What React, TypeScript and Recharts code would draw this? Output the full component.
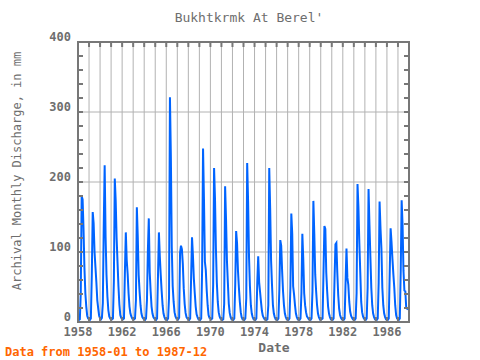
import { LineChart, Line, XAxis, YAxis, CartesianGrid, ReferenceArea } from "recharts";

// monthly discharge (mm), Jan..Dec
const q1958 = [4, 3, 4, 41, 180, 175, 133, 77, 41, 22, 9, 5];
const q1959 = [4, 3, 5, 66, 157, 141, 100, 78, 56, 31, 19, 9];
const q1960 = [5, 4, 6, 27, 137, 224, 122, 67, 36, 17, 8, 5];
const q1961 = [5, 4, 5, 58, 205, 173, 120, 85, 51, 25, 10, 6];
const q1962 = [5, 4, 5, 71, 128, 88, 69, 41, 22, 12, 8, 5];
const q1963 = [5, 4, 5, 31, 164, 122, 67, 43, 24, 12, 7, 5];
const q1964 = [4, 3, 5, 31, 102, 148, 71, 44, 22, 12, 7, 5];
const q1965 = [4, 3, 5, 66, 128, 93, 67, 44, 24, 12, 7, 4];
const q1966 = [4, 3, 5, 35, 321, 236, 106, 51, 29, 14, 8, 5];
const q1967 = [5, 4, 6, 99, 109, 104, 83, 48, 26, 13, 7, 5];
const q1968 = [4, 3, 5, 62, 121, 95, 62, 41, 22, 11, 7, 4];
const q1969 = [4, 3, 5, 76, 248, 176, 86, 74, 45, 24, 10, 6];
const q1970 = [5, 4, 5, 53, 220, 176, 105, 56, 29, 14, 8, 5];
const q1971 = [4, 3, 4, 26, 194, 147, 87, 56, 26, 13, 7, 4];
const q1972 = [4, 3, 5, 53, 130, 112, 73, 49, 29, 14, 7, 4];
const q1973 = [4, 3, 5, 34, 227, 173, 93, 51, 24, 12, 7, 4];
const q1974 = [4, 3, 5, 57, 94, 57, 43, 29, 16, 9, 6, 4];
const q1975 = [4, 3, 4, 24, 220, 163, 88, 53, 24, 12, 7, 4];
const q1976 = [4, 3, 5, 46, 117, 109, 73, 44, 24, 12, 7, 4];
const q1977 = [4, 3, 5, 49, 155, 126, 51, 39, 24, 12, 7, 4];
const q1978 = [4, 3, 5, 41, 126, 90, 41, 24, 14, 8, 6, 4];
const q1979 = [4, 3, 5, 44, 173, 126, 68, 44, 24, 12, 7, 4];
const q1980 = [5, 4, 5, 71, 137, 133, 71, 44, 22, 12, 7, 4];
const q1981 = [4, 3, 5, 60, 111, 113, 71, 39, 19, 10, 6, 4];
const q1982 = [4, 3, 5, 56, 105, 63, 53, 29, 15, 9, 6, 4];
const q1983 = [4, 3, 5, 41, 197, 164, 112, 71, 29, 14, 8, 5];
const q1984 = [4, 3, 5, 49, 190, 139, 93, 49, 24, 12, 7, 4];
const q1985 = [4, 3, 5, 56, 172, 134, 105, 49, 24, 12, 7, 4];
const q1986 = [4, 3, 5, 68, 134, 114, 90, 68, 49, 24, 10, 5];
const q1987 = [4, 3, 5, 73, 174, 138, 73, 45, 44, 20, 19, 18];

const years = [
  1958, 1959, 1960, 1961, 1962, 1963, 1964, 1965, 1966, 1967,
  1968, 1969, 1970, 1971, 1972, 1973, 1974, 1975, 1976, 1977,
  1978, 1979, 1980, 1981, 1982, 1983, 1984, 1985, 1986, 1987,
];
const series = [
  q1958, q1959, q1960, q1961, q1962, q1963, q1964, q1965, q1966, q1967,
  q1968, q1969, q1970, q1971, q1972, q1973, q1974, q1975, q1976, q1977,
  q1978, q1979, q1980, q1981, q1982, q1983, q1984, q1985, q1986, q1987,
];

const xTicks = [...years, 1988];
const xLabels = [1958, 1962, 1966, 1970, 1974, 1978, 1982, 1986];
const yTicks = [0, 20, 40, 60, 80, 100, 120, 140, 160, 180, 200, 220, 240, 260, 280, 300, 320, 340, 360, 380, 400];
const yLabels = [0, 100, 200, 300, 400];

const data = years.flatMap((yr, i) =>
  series[i].map((q, m) => ({ t: yr + m / 12, q }))
);

const PLOT_LEFT = 78;
const PLOT_RIGHT = 409;
const PLOT_TOP = 42;
const PLOT_BOTTOM = 322;
const AXIS = "#777777";
const TEXT = "#6e6e6e";
const FONT = "'DejaVu Sans Mono', monospace";

const XTick = ({ x, payload }: any) => (
  <g>
    <line x1={x} x2={x} y1={PLOT_BOTTOM} y2={PLOT_BOTTOM - 5} stroke={AXIS} strokeWidth={2} />
    <line x1={x} x2={x} y1={PLOT_TOP} y2={PLOT_TOP + 5} stroke={AXIS} strokeWidth={2} />
    {xLabels.includes(payload.value) && (
      <text x={x} y={336} textAnchor="middle" fill={TEXT} fontFamily={FONT} fontSize={12} fontWeight="bold">
        {payload.value}
      </text>
    )}
  </g>
);

const YTick = ({ y, payload }: any) => (
  <g>
    <line x1={PLOT_LEFT} x2={PLOT_LEFT + 5} y1={y} y2={y} stroke={AXIS} strokeWidth={2} />
    <line x1={PLOT_RIGHT - 5} x2={PLOT_RIGHT} y1={y} y2={y} stroke={AXIS} strokeWidth={2} />
    {yLabels.includes(payload.value) && (
      <text x={71} y={y - 1} textAnchor="end" fill={TEXT} fontFamily={FONT} fontSize={12} fontWeight="bold">
        {payload.value}
      </text>
    )}
  </g>
);

export default function App() {
  return (
    <div style={{ position: "absolute", left: 0, top: 0, width: 480, height: 360, background: "#fff" }}>
      <LineChart
        width={480}
        height={360}
        data={data}
        margin={{ top: PLOT_TOP, right: 480 - PLOT_RIGHT, bottom: 18, left: PLOT_LEFT - 40 }}
      >
        <CartesianGrid stroke="#b2b2b2" strokeWidth={1} horizontalValues={[100, 200, 300]} />
        <XAxis
          type="number"
          dataKey="t"
          domain={[1958, 1988]}
          ticks={xTicks}
          interval={0}
          axisLine={false}
          tickLine={false}
          tick={<XTick />}
          height={20}
          allowDataOverflow
        />
        <YAxis
          type="number"
          domain={[0, 400]}
          ticks={yTicks}
          interval={0}
          axisLine={false}
          tickLine={false}
          tick={<YTick />}
          width={40}
          allowDataOverflow
        />
        <Line
          type="linear"
          dataKey="q"
          stroke="#0064ff"
          strokeWidth={2}
          dot={false}
          isAnimationActive={false}
        />
        <ReferenceArea x1={1958} x2={1988} y1={0} y2={400} fill="none" stroke={AXIS} strokeWidth={2} />
      </LineChart>
      <svg width={480} height={360} style={{ position: "absolute", left: 0, top: 0, pointerEvents: "none" }}>
        <text x={249} y={22} textAnchor="middle" fill={TEXT} fontFamily={FONT} fontSize={13}>
          Bukhtkrmk At Berel'
        </text>
        <text
          x={21}
          y={171}
          textAnchor="middle"
          fill={TEXT}
          fontFamily={FONT}
          fontSize={12}
          transform="rotate(-90 21 171)"
        >
          Archival Monthly Discharge, in mm
        </text>
        <text x={274} y={352} textAnchor="middle" fill={TEXT} fontFamily={FONT} fontSize={13} fontWeight="bold">
          Date
        </text>
        <text x={5} y={356} fill="#ff6600" fontFamily={FONT} fontSize={12} fontWeight="bold">
          Data from 1958-01 to 1987-12
        </text>
      </svg>
    </div>
  );
}
